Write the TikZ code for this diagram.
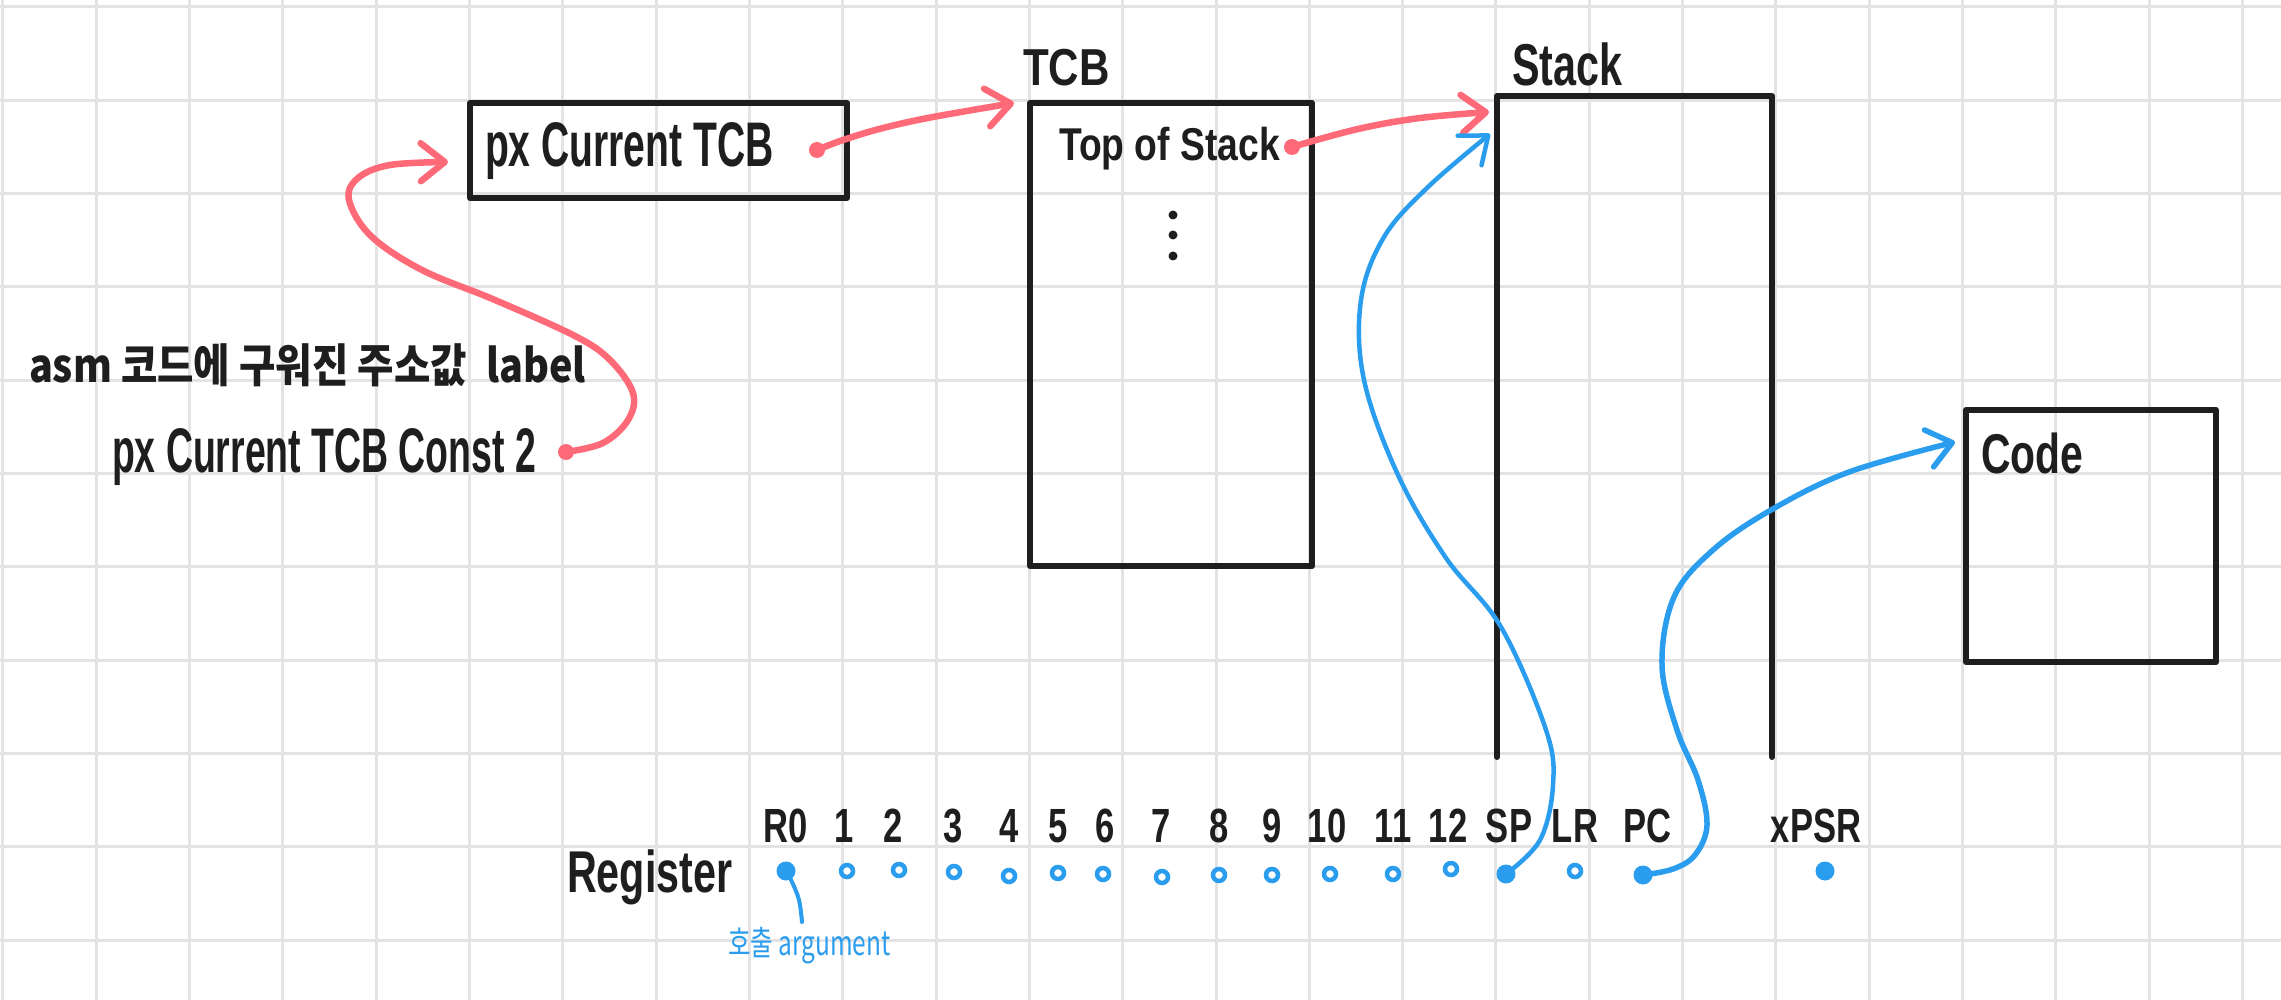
\documentclass[tikz,border=0pt]{standalone}
\usepackage{fontspec}
\usepackage{graphicx}
\setmainfont{Liberation Sans}
\newfontfamily\krfont{Noto Sans CJK KR}
\usetikzlibrary{arrows.meta}
\definecolor{ink}{HTML}{1E1E1E}
\definecolor{redp}{HTML}{FF6A78}
\definecolor{bluep}{HTML}{2B9DEE}
\definecolor{gridc}{HTML}{E3E3E3}
\begin{document}
\begin{tikzpicture}[x=1pt,y=-1pt,
  hand/.style={inner sep=0pt, outer sep=0pt, text=ink, font=\bfseries\fontsize{#1}{#1}\selectfont},
  krhand/.style={inner sep=0pt, outer sep=0pt, font=\krfont\fontsize{#1}{#1}\selectfont},
  boxline/.style={draw=ink, line width=6pt, line cap=round, line join=round},
  area/.style={inner sep=0pt, outer sep=0pt},
  barb/.style={-{Straight Barb[length=24pt,width=38pt,round]}},
  redline/.style={draw=redp, line width=6.5pt, line cap=round, line join=round, barb},
  blueline/.style={draw=bluep, line width=#1, line cap=round, line join=round},
  reddot/.style={circle, fill=redp, inner sep=0pt, minimum size=16pt},
  fdot/.style={circle, fill=bluep, inner sep=0pt, minimum size=19pt},
  ring/.style={circle, draw=bluep, fill=white, line width=4.5pt, inner sep=0pt, minimum size=12pt},
  reglab/.style={hand=48, anchor=base}
]
\useasboundingbox (0,0) rectangle (2281,1000);
\fill[white] (0,0) rectangle (2281,1000);
% grid
\foreach \i in {0,...,24} \draw[gridc, line width=3pt] ({2.7+93.33*\i},0) -- ({2.7+93.33*\i},1000);
\foreach \j in {0,...,10} \draw[gridc, line width=3pt] (0,{6.7+93.33*\j}) -- (2281,{6.7+93.33*\j});

% boxes
\node[area, boxline, minimum width=377pt, minimum height=95pt] (curtcb) at (658.5,150.5) {};
\node[area, boxline, minimum width=282pt, minimum height=463pt] (tcb) at (1171,334.5) {};
\node[area, minimum width=275pt, minimum height=661pt] (stack) at (1634.5,426.5) {};
\draw[boxline] (stack.south west) -- (stack.north west) -- (stack.north east) -- (stack.south east);
\node[area, boxline, minimum width=250pt, minimum height=252pt] (code) at (2091,536) {};

% texts
\node[hand=63, anchor=base west] (curtcbtxt) at (485,167) {\scalebox{0.62}[1]{px Current TCB}};
\node[hand=52, anchor=base west] (tcblab) at (1023,86) {\scalebox{0.81}[1]{TCB}};
\node[hand=46, anchor=base west] (tostxt) at (1059,161) {\scalebox{0.81}[1]{Top of Stack}};
\node[hand=59, anchor=base west] (stacklab) at (1512,86) {\scalebox{0.70}[1]{Stack}};
\node[hand=56, anchor=base west] (codelab) at (1981,473) {\scalebox{0.73}[1]{Code}};
\node[krhand=46, text=ink, anchor=base west] (asmtxt) at (29,382) {\bfseries\scalebox{0.86}[1]{asm 코드에 구워진 주소값\hspace{12pt} label}};
\node[hand=63, anchor=base west] (consttxt) at (112,472) {\scalebox{0.594}[1]{px Current TCB Const 2}};
\node[hand=59, anchor=base west] (regtxt) at (567,892) {\scalebox{0.70}[1]{Register}};
\node[krhand=34, text=bluep, anchor=base west] (argtxt) at (728,955) {\scalebox{0.72}[1]{호출 argument}};

% vertical dots in TCB
\foreach \k/\yy in {1/215,2/235,3/256}
  \node[circle, fill=ink, inner sep=0pt, minimum size=9pt] (vd\k) at (1173,\yy) {};

% registers
\foreach \n/\lab/\lx/\dx/\dy/\st in {
  0/R0/786/786/871/fdot, 1/1/844/847/871/ring, 2/2/893/899/870/ring,
  3/3/953/954/872/ring, 4/4/1009/1009/876/ring, 5/5/1058/1058/873/ring,
  6/6/1105/1103/874/ring, 7/7/1161/1162/877/ring, 8/8/1219/1219/875/ring,
  9/9/1272/1272/875/ring, 10/10/1327/1330/874/ring, 11/11/1393/1393/874/ring,
  12/12/1448/1451/869/ring, 13/SP/1509/1506/874/fdot, 14/LR/1575/1575/871/ring,
  15/PC/1647/1643/875/fdot, 16/xPSR/1816/1825/871/fdot}
{
  \node[reglab] (l\n) at (\lx,842) {\scalebox{0.72}[1]{\lab}};
  \node[\st] (d\n) at (\dx,\dy) {};
}

% red dots
\node[reddot] (curdot) at (817,150) {};
\node[reddot] (tosdot) at (1292,147) {};
\node[reddot] (constdot) at (566,452) {};

% arrow tips
\coordinate (tcbtip) at (1014,103);
\coordinate (stackredtip) at (1489,112);
\coordinate (curtip) at (448,162);
\coordinate (stackbluetip) at (1490,134);
\coordinate (codetip) at (1955,442);
\coordinate (argtop) at (802,922);

% red connectors
\draw[redline] plot[smooth, tension=0.6] coordinates {(curdot.center) (843,140) (883,128) (933,117) (tcbtip)};
\draw[redline] plot[smooth, tension=0.6] coordinates {(tosdot.center) (1358,129) (1420,118) (stackredtip)};
\draw[redline] plot[smooth, tension=0.6] coordinates {(constdot.center) (603,443) (628,420) (633,393) (610,360) (575,336) (495,300) (422,270) (371,236) (349,200) (358,178) (390,165) (curtip)};

% blue connectors
\draw[blueline=4.5pt, barb] plot[smooth, tension=0.6] coordinates {(d13.center) (1540,840) (1553,785) (1546,730) (1501,627) (1446,558) (1398,475) (1364,380) (1361,300) (1384,237) (1428,187) (stackbluetip)};
\draw[blueline=5.5pt, barb] plot[smooth, tension=0.6] coordinates {(d15.center) (1673,869) (1695,855) (1707,825) (1698,780) (1677,730) (1662,665) (1674,597) (1713,550) (1771,510) (1849,472) (codetip)};
\draw[blueline=4pt] plot[smooth, tension=0.6] coordinates {(d0.center) (792,882) (799,900) (argtop)};
\end{tikzpicture}
\end{document}
